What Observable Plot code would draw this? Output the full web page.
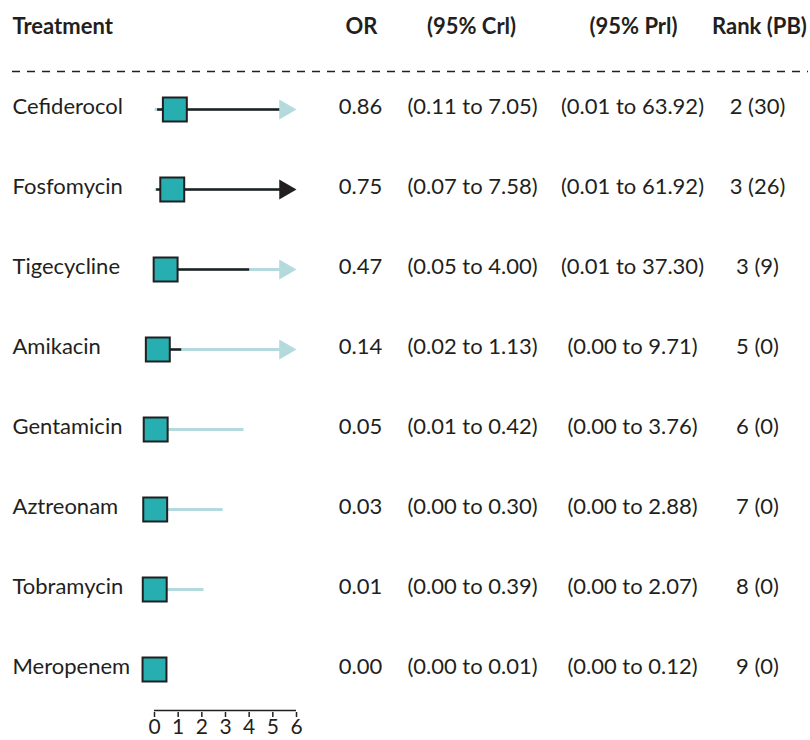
<!DOCTYPE html>
<html><head><meta charset="utf-8">
<script src="https://cdn.jsdelivr.net/npm/d3@7"></script>
<script src="https://cdn.jsdelivr.net/npm/@observablehq/plot@0.6"></script>
<style>body{margin:0;background:#fff;font-family:Lato,sans-serif}</style>
</head><body><div id="chart"></div>
<script>
const treatments = ["Cefiderocol","Fosfomycin","Tigecycline","Amikacin","Gentamicin","Aztreonam","Tobramycin","Meropenem"];
const orValues = [0.86,0.75,0.47,0.14,0.05,0.03,0.01,0.00];
const crLow  = [0.11,0.07,0.05,0.02,0.01,0.00,0.00,0.00];
const crHigh = [7.05,7.58,4.00,1.13,0.42,0.30,0.39,0.01];
const prLow  = [0.01,0.01,0.01,0.00,0.00,0.00,0.00,0.00];
const prHigh = [63.92,61.92,37.30,9.71,3.76,2.88,2.07,0.12];
const ranks = [2,3,3,5,6,7,8,9];
const pb = [30,26,9,0,0,0,0,0];
const headers = ["Treatment","OR","(95% Crl)","(95% Prl)","Rank (PB)"];
const xTicks = [0,1,2,3,4,5,6];

const f2 = v => v.toFixed(2);
const rows = treatments.map((t,i)=>({
  name:t, or:orValues[i], crLo:crLow[i], crHi:crHigh[i], prLo:prLow[i], prHi:prHigh[i],
  orTxt:f2(orValues[i]),
  crTxt:`(${f2(crLow[i])} to ${f2(crHigh[i])})`,
  prTxt:`(${f2(prLow[i])} to ${f2(prHigh[i])})`,
  rankTxt:`${ranks[i]} (${pb[i]})`
}));
const xMax = d3.max(xTicks);
const clip = v => Math.min(v, xMax - 0.4);
const dark = "#231f20", light = "#b3dadd", teal = "#27aeb0";
const colX = [12, 361, 471, 633, 759];
const headerRow = [{}];
const tdy = -3;

const chart = Plot.plot({
  width: 810, height: 740,
  marginTop: 0, marginLeft: 0, marginRight: 0, marginBottom: 28,
  style: {fontFamily: "Lato, sans-serif", fontSize: "22px", color: dark, background: "#fff"},
  x: {domain: [0, xMax], range: [154, 296]},
  y: {type: "point", domain: ["header", ...treatments], range: [26, 671], padding: 0, axis: null},
  marks: [
    // header
    ...headers.map((h,i)=>Plot.text(headerRow, {y: () => "header", text: () => h, frameAnchor: "left", dx: colX[i], dy: tdy, textAnchor: i===0 ? "start" : "middle", fontWeight: "bold", fontSize: 22, fill: dark})),
    Plot.ruleY(["header"], {dy: 42, stroke: dark, strokeWidth: 1.5, strokeDasharray: "8,7", insetLeft: 12, insetRight: 2}),
    // intervals
    Plot.link(rows, {x1: d => d.prLo, x2: d => clip(d.prHi), y1: "name", y2: "name", stroke: light, strokeWidth: 3}),
    Plot.link(rows, {x1: d => d.crLo, x2: d => clip(d.crHi), y1: "name", y2: "name", stroke: dark, strokeWidth: 2.5}),
    Plot.dot(rows.filter(d => d.prHi > xMax), {x: () => xMax, y: "name", symbol: "triangle", rotate: 90, r: 7.4, dx: -11.5, fill: d => d.crHi > 7.5 ? dark : light, stroke: "none"}),
    Plot.dot(rows, {x: "or", y: "name", symbol: "square", r: 13.5, fill: teal, stroke: dark, strokeWidth: 2}),
    // table text
    Plot.text(rows, {y: "name", text: "name", frameAnchor: "left", dx: colX[0], dy: tdy, textAnchor: "start", fill: dark, fontSize: 22}),
    Plot.text(rows, {y: "name", text: "orTxt", frameAnchor: "left", dx: 360, dy: tdy, textAnchor: "middle", fill: dark, fontSize: 22}),
    Plot.text(rows, {y: "name", text: "crTxt", frameAnchor: "left", dx: 472, dy: tdy, textAnchor: "middle", fill: dark, fontSize: 22}),
    Plot.text(rows, {y: "name", text: "prTxt", frameAnchor: "left", dx: 632, dy: tdy, textAnchor: "middle", fill: dark, fontSize: 22}),
    Plot.text(rows, {y: "name", text: "rankTxt", frameAnchor: "left", dx: 757, dy: tdy, textAnchor: "middle", fill: dark, fontSize: 22}),
    // axis
    Plot.ruleY([treatments[treatments.length-1]], {x1: 0, x2: xMax, dy: 41, stroke: dark, strokeWidth: 1.5}),
    Plot.axisX(xTicks, {anchor: "bottom", tickSize: 5, text: null, stroke: dark, strokeWidth: 1.5, label: null}),
    Plot.text(xTicks, {x: d => d, frameAnchor: "bottom", dy: 15, lineAnchor: "middle", fontSize: 21, fill: dark})
  ]
});
document.getElementById("chart").appendChild(chart);
</script>
</body></html>
